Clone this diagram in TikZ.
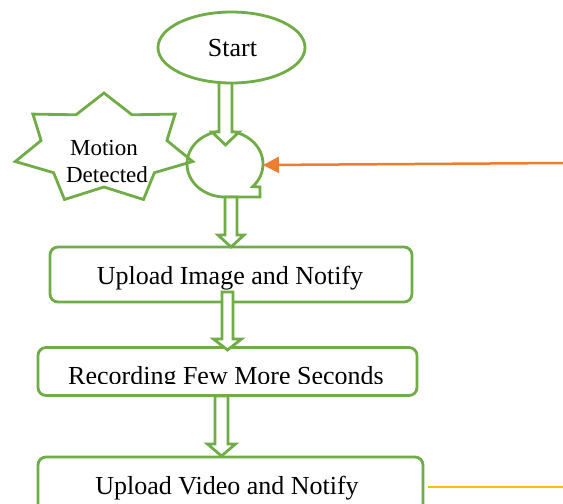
\documentclass[tikz,border=0pt]{standalone}
\usepackage{fontspec}
\setmainfont{Liberation Serif}
\usetikzlibrary{arrows.meta,shapes.geometric}
\definecolor{gr}{HTML}{70AD47}
\definecolor{org}{HTML}{ED7D31}
\definecolor{yel}{HTML}{FFC000}
\newcommand{\blkarrow}[6]{%
  \draw[blockarrow] (#1-#4,#2) -- (#1+#4,#2) -- (#1+#4,#3-#6) -- (#1+#5,#3-#6)
    -- (#1,#3) -- (#1-#5,#3-#6) -- (#1-#4,#3-#6) -- cycle;}
\begin{document}
\begin{tikzpicture}[x=1pt,y=-1pt,
  gline/.style={draw=gr,line width=2.8pt},
  procbox/.style={gline,rounded corners=8pt,inner sep=0pt,fill=white},
  lbl/.style={font=\fontsize{26}{30}\selectfont,anchor=base,inner sep=0pt},
  slbl/.style={font=\fontsize{23}{27}\selectfont,anchor=base,inner sep=0pt},
  blockarrow/.style={gline,fill=white,line join=miter}]
\useasboundingbox (0,0) rectangle (563,504);
\clip (0,0) rectangle (563,504);

% tape (sequential storage) symbol
\draw[gline,fill=white] (225,197) arc[start angle=90,end angle=403,x radius=38,y radius=33]
  -- (260,187) -- (260,197) -- cycle;
\coordinate (tapeE) at (263,165);

% motion detected star
\draw[gline] (104,93) -- (132,114.8) -- (175.1,114.1) -- (166.9,140.5) -- (192.7,161.5)
  -- (154.4,172.7) -- (143.5,199.5) -- (104,187) -- (64.5,199.5) -- (53.6,172.7)
  -- (15.3,161.5) -- (41.1,140.5) -- (32.9,114.1) -- (76,114.8) -- cycle;
\node[slbl] (motion1) at (104,155) {Motion};
\node[slbl] (motion2) at (107,182) {Detected};

% arrow start -> tape
\blkarrow{225.5}{70}{145}{6.5}{13.5}{13}

% start
\node[gline,ellipse,fill=white,minimum width=147pt,minimum height=71pt,inner sep=0pt] (start) at (231.5,47.5) {};
\node[lbl] (starttxt) at (232.5,56) {Start};

% orange input
\coordinate (feed) at (565,163);
\draw[org,line width=2.5pt,-{Triangle[length=16pt,width=16pt]}] (feed) -- (tapeE);

% upload image
\node[procbox,minimum width=362pt,minimum height=55pt] (imgbox) at (231,274.5) {};
\node[lbl] (imgtxt) at (230,284) {Upload Image and Notify};
\blkarrow{231}{197}{247}{6}{13}{12}

% recording
\node[procbox,minimum width=379pt,minimum height=48pt] (recbox) at (227.5,371.5) {};
\begin{scope}
\clip (40,350) rectangle (415,383);
\node[lbl] (rectxt) at (226,384) {Recording Few More Seconds};
\end{scope}
\blkarrow{227.5}{292}{350}{5.5}{14}{11}

% upload video
\node[procbox,minimum width=385pt,minimum height=80pt] (vidbox) at (230.5,497) {};
\node[lbl] (vidtxt) at (227,494) {Upload Video and Notify};
\blkarrow{221.5}{396}{456}{6.5}{14}{12}

% yellow line
\coordinate (y1) at (428,487);
\coordinate (y2) at (565,487);
\draw[yel,line width=1.2pt] (y1) -- (y2);
\end{tikzpicture}
\end{document}
